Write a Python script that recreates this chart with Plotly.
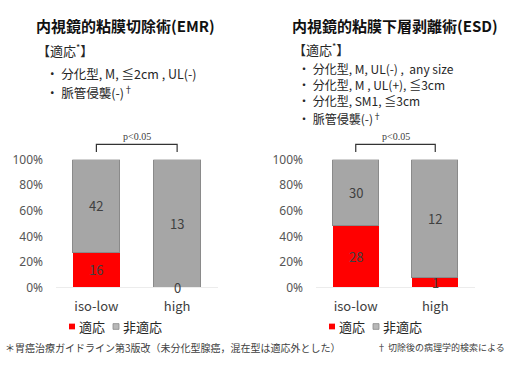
import plotly.graph_objects as go

# Case counts per histology group
categories = ["iso-low", "high"]
emr_fit = [16, 0]        # 適応 (EMR)
emr_unfit = [42, 13]     # 非適応 (EMR)
esd_fit = [28, 1]        # 適応 (ESD)
esd_unfit = [30, 12]     # 非適応 (ESD)
y_ticks = [0, 0.2, 0.4, 0.6, 0.8, 1.0]

W, H = 509, 365
RED = "#ff0000"
GRAY = "#a6a6a6"
TXT = "#404040"
CJK = "Noto Sans CJK JP"


def px(x):
    return x / W


def py(y):
    return 1 - y / H


def shares(fit, unfit):
    tot = [a + b for a, b in zip(fit, unfit)]
    return [a / t for a, t in zip(fit, tot)], [b / t for b, t in zip(unfit, tot)]


fig = go.Figure()
annotations = []
shapes = []

panels = [
    ("x", "y", emr_fit, emr_unfit),
    ("x2", "y2", esd_fit, esd_unfit),
]

for xa, ya, fit, unfit in panels:
    f_share, u_share = shares(fit, unfit)
    fig.add_trace(go.Bar(x=categories, y=f_share, xaxis=xa, yaxis=ya, width=0.58,
                         marker=dict(color=RED, line=dict(width=0)),
                         showlegend=False, hoverinfo="skip"))
    fig.add_trace(go.Bar(x=categories, y=u_share, xaxis=xa, yaxis=ya, width=0.58,
                         marker=dict(color=GRAY, line=dict(color="#8a8a8a", width=1)),
                         showlegend=False, hoverinfo="skip"))
    # count labels centred in each segment
    for i, c in enumerate(categories):
        annotations.append(dict(x=c, y=f_share[i] / 2, xref=xa, yref=ya, text=str(fit[i]),
                                showarrow=False, borderpad=0,
                                font=dict(family=CJK, size=13, color=TXT)))
        annotations.append(dict(x=c, y=f_share[i] + u_share[i] / 2, xref=xa, yref=ya,
                                text=str(unfit[i]), showarrow=False, borderpad=0,
                                font=dict(family=CJK, size=13, color=TXT)))
    # significance bracket between the two bars
    shapes.append(dict(type="path", xref=xa, yref="paper",
                       path=f"M 0,{py(150)} L 0,{py(142)} L 1,{py(142)} L 1,{py(150)}",
                       line=dict(color="#333333", width=1.2)))
    annotations.append(dict(x=0.5, y=py(134), xref=xa, yref="paper", text="p<0.05",
                            showarrow=False, yanchor="middle",
                            font=dict(family="Liberation Serif", size=10, color=TXT)))

axis_common = dict(showgrid=False, zeroline=False, fixedrange=True)
fig.update_layout(
    width=W, height=H, margin=dict(l=0, r=0, t=0, b=0),
    paper_bgcolor="white", plot_bgcolor="white", barmode="stack", bargap=0,
    xaxis=dict(domain=[px(56), px(217.5)], range=[-0.5, 1.5], type="category",
               showline=True, linecolor="#ececec", ticks="", ticklabelstandoff=7,
               tickfont=dict(family=CJK, size=13, color=TXT), **axis_common),
    yaxis=dict(domain=[py(292), py(158)], range=[0, 1], tickvals=y_ticks, tickformat=".0%",
               showline=False, ticks="", ticklabelstandoff=12,
               tickfont=dict(family="Noto Sans", size=12, color="#555555"), **axis_common),
    xaxis2=dict(domain=[px(316), px(475)], range=[-0.5, 1.5], type="category",
                anchor="y2", showline=True, linecolor="#ececec", ticks="", ticklabelstandoff=7,
                tickfont=dict(family=CJK, size=13, color=TXT), **axis_common),
    yaxis2=dict(domain=[py(292), py(158)], range=[0, 1], tickvals=y_ticks, tickformat=".0%",
                anchor="x2", showline=False, ticks="", ticklabelstandoff=12,
                tickfont=dict(family="Noto Sans", size=12, color="#555555"), **axis_common),
)


def text(x, y, s, size, color="#262626", bold=False, family=CJK, anchor="left"):
    if bold:
        s = f"<b>{s}</b>"
    annotations.append(dict(x=px(x), y=py(y), xref="paper", yref="paper", text=s,
                            showarrow=False, xanchor=anchor, yanchor="middle",
                            borderpad=0,
                            font=dict(family=family, size=size, color=color)))


# headings and indication criteria
text(35, 17, "内視鏡的粘膜切除術(EMR)", 15, "#111111", bold=True)
text(36, 43, "【適応<sup>*</sup>】", 13)
text(45, 68, "・ 分化型, M, ≦2cm , UL(-)", 12.5)
text(45, 88, "・ 脈管侵襲(-)<sup>†</sup>", 12.5)

text(291, 17, "内視鏡的粘膜下層剥離術(ESD)", 15, "#111111", bold=True)
text(292, 42, "【適応<sup>*</sup>】", 13)
text(297, 62, "・ 分化型, M, UL(-) ,  any size", 12)
text(297, 79, "・ 分化型, M , UL(+), ≦3cm", 12)
text(297, 96, "・ 分化型, SM1, ≦3cm", 12)
text(297, 114, "・ 脈管侵襲(-)<sup>†</sup>", 12)

# legends under each chart
for x0 in (69, 329):
    shapes.append(dict(type="rect", xref="paper", yref="paper", x0=px(x0), x1=px(x0 + 6),
                       y0=py(336), y1=py(330), fillcolor=RED, line=dict(width=0)))
    text(x0 + 9, 333, "適応", 13)
    shapes.append(dict(type="rect", xref="paper", yref="paper", x0=px(x0 + 44), x1=px(x0 + 50),
                       y0=py(336), y1=py(330), fillcolor="#b8b8b8",
                       line=dict(color="#8a8a8a", width=0.8)))
    text(x0 + 53, 333, "非適応", 13)

# footnotes
text(4, 355, "＊胃癌治療ガイドライン第3版改（未分化型腺癌，混在型は適応外とした）", 10, TXT)
text(506, 355, "† 切除後の病理学的検索による", 9, TXT, anchor="right")

fig.update_layout(annotations=annotations, shapes=shapes)
fig.write_html("out.html")
